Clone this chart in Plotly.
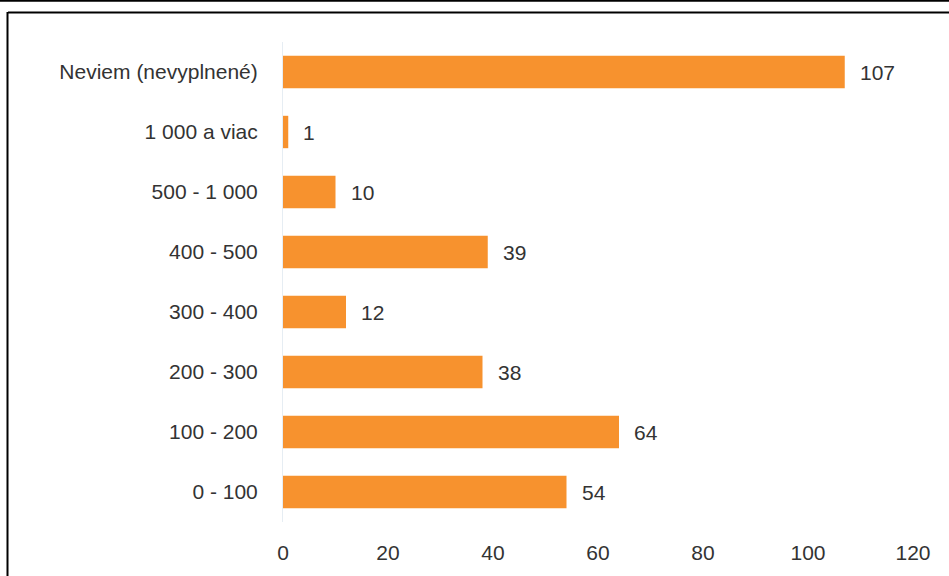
import plotly.graph_objects as go

categories = ["0 - 100", "100 - 200", "200 - 300", "300 - 400",
              "400 - 500", "500 - 1 000", "1 000 a viac", "Neviem (nevyplnené)"]
counts = [54, 64, 38, 12, 39, 10, 1, 107]
x_ticks = [0, 20, 40, 60, 80, 100, 120]

W, H = 949, 576
L, R, T, B = 283, 36, 42, 52
pw, ph = W - L - R, H - T - B
FONT = "Liberation Sans, Arial"
TXT = "#333333"
FS = 21


def px_x(p):
    return (p - L) / pw


def px_y(p):
    return (H - B - p) / ph


fig = go.Figure(go.Bar(
    x=counts, y=categories, orientation="h",
    marker=dict(color="#F7922E", line=dict(width=0)),
    width=0.54,
))

for c, v in zip(categories, counts):
    fig.add_annotation(x=v, y=c, text=str(v), showarrow=False,
                       xanchor="left", xshift=13,
                       font=dict(family=FONT, size=FS, color=TXT))

# frame lines around the chart
fig.add_shape(type="line", xref="paper", yref="paper",
              x0=px_x(8), x1=px_x(W), y0=px_y(12.5), y1=px_y(12.5),
              line=dict(color="black", width=2))
fig.add_shape(type="line", xref="paper", yref="paper",
              x0=px_x(7.5), x1=px_x(7.5), y0=px_y(12), y1=px_y(H + 5),
              line=dict(color="black", width=2))
fig.add_shape(type="line", xref="paper", yref="paper",
              x0=px_x(0), x1=px_x(W), y0=px_y(0.5), y1=px_y(0.5),
              line=dict(color="black", width=2))

fig.update_layout(
    width=W, height=H,
    margin=dict(l=L, r=R, t=T, b=B),
    paper_bgcolor="white", plot_bgcolor="white",
    showlegend=False,
    font=dict(family=FONT, size=FS, color=TXT),
    xaxis=dict(range=[0, 120], tickvals=x_ticks, showgrid=False, zeroline=False,
               showline=False, ticks="outside", ticklen=12, tickcolor="white",
               tickfont=dict(family=FONT, size=FS, color=TXT)),
    yaxis=dict(categoryorder="array", categoryarray=categories,
               range=[-0.5, 7.5], showgrid=False, zeroline=False,
               showline=True, linecolor="#e6edf3", linewidth=1,
               ticks="", ticklabelstandoff=20,
               tickfont=dict(family=FONT, size=FS, color=TXT)),
)

fig.write_html("out.html")
